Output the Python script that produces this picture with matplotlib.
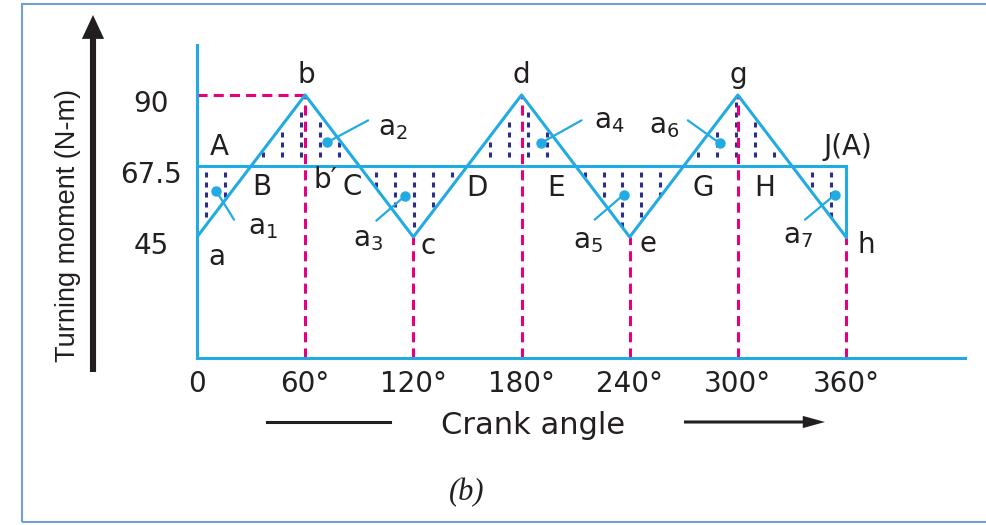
import matplotlib
matplotlib.use('Agg')
import matplotlib.pyplot as plt
import numpy as np
from matplotlib.lines import Line2D
from matplotlib.patches import Rectangle
from matplotlib.transforms import ScaledTranslation

# turning moment diagram: corners of the triangular curve
angle = [0, 60, 120, 180, 240, 300, 360]
torque = [45, 90, 45, 90, 45, 90, 45]
mean_torque = 67.5
corner_names = ['a', 'b', 'c', 'd', 'e', 'g', 'h']
cross_names = ['B', 'C', 'D', 'E', 'G', 'H']
area_names = ['a$_1$', 'a$_2$', 'a$_3$', 'a$_4$', 'a$_5$', 'a$_6$', 'a$_7$']
x_ticks = [0, 60, 120, 180, 240, 300, 360]
x_labels = ['0', '60°', '120°', '180°', '240°', '300°', '360°']
y_ticks = [45, 67.5, 90]
y_labels = ['45', '67.5', '90']

CYAN = '#22abe3'
MAGENTA = '#e4007f'
NAVY = '#2b2e8c'
INK = '#231f20'

plt.rcParams['font.family'] = ['DejaVu Sans']
plt.rcParams['mathtext.fontset'] = 'dejavusans'

W, H = 987, 525
fig = plt.figure(figsize=(W / 100, H / 100), dpi=100)
ax = fig.add_axes([197 / W, 1 - 358 / H, (965 - 197) / W, (358 - 45) / H])
ax.set_xlim(0, 426)
ax.set_ylim(6.66, 105.84)

for side in ['top', 'right']:
    ax.spines[side].set_visible(False)
for side in ['left', 'bottom']:
    ax.spines[side].set_color(CYAN)
    ax.spines[side].set_linewidth(2.2)

# where the curve crosses the mean line
cross = []
for i in range(len(angle) - 1):
    x0, x1, y0, y1 = angle[i], angle[i + 1], torque[i], torque[i + 1]
    cross.append(x0 + (mean_torque - y0) / (y1 - y0) * (x1 - x0))

# dotted shading between curve and mean line
gx, gy = np.meshgrid(np.arange(5, 360, 10.5), np.arange(8, 106, 3.17))
cy = np.interp(gx, angle, torque)
lo = np.minimum(cy, mean_torque)
hi = np.maximum(cy, mean_torque)
inside = (gy > lo + 0.9) & (gy < hi - 0.9)
ax.plot(gx[inside], gy[inside], ls='none', marker='|', ms=3.6, mew=2.2,
        color=NAVY, zorder=1)

# dashed construction lines
ax.vlines(angle[1:], ax.get_ylim()[0], torque[1:], colors=MAGENTA, lw=2.2,
          linestyles=(0, (3.3, 2)), zorder=2)
ax.hlines(torque[1], 0, angle[1], colors=MAGENTA, lw=2.2,
          linestyles=(0, (3.3, 2)), zorder=2)

# curve, mean line and closing edge
ax.plot(angle, torque, color=CYAN, lw=2.2, zorder=3)
ax.hlines(mean_torque, 0, angle[-1], colors=CYAN, lw=2.2, zorder=3)
ax.plot([angle[-1]] * 2, [torque[-1], mean_torque], color=CYAN, lw=2.2, zorder=3)

lab = dict(textcoords='offset pixels', ha='center', va='center', fontsize=20,
           color=INK)
corner_off = [(20, -20), (1, 20), (15, -9), (0, 20), (18, -7), (0, 20), (20, -8)]
for name, x, y, off in zip(corner_names, angle, torque, corner_off):
    ax.annotate(name, (x, y), xytext=off, **lab)

cross_off = [(11, -21), (-7, -21), (10, -22), (-20, -22), (19, -22), (-27, -22)]
for name, x, off in zip(cross_names, cross, cross_off):
    ax.annotate(name, (x, mean_torque), xytext=off, **lab)

ax.annotate('A', (0, mean_torque), xytext=(22, 19), **lab)
ax.annotate('J(A)', (angle[-1], mean_torque), xytext=(2, 19), **lab)
ax.annotate('b′', (angle[1], mean_torque), xytext=(20, -14), **lab)

# area markers with leader lines, placed from each triangle's centroid
bounds = [0] + cross + [360]
dot_shift = [(1, -1), (22, 0), (-8, -6), (19, -1), (-6, -5), (-18, -1), (7, -5)]
lead = [(18, -29), (41, 22), (-29, -25), (41, 23), (-29, -25), (-32, 23), (-30, -25)]
text_off = [(47, -36), (66, 14), (-37, -43), (69, 22), (-36, -46), (-56, 17), (-37, -41)]
for i, name in enumerate(area_names):
    b0, b1 = bounds[i], bounds[i + 1]
    vx = [b0] + [x for x in angle if b0 <= x <= b1] + [b1]
    vy = [mean_torque] + [y for x, y in zip(angle, torque) if b0 <= x <= b1] + [mean_torque]
    px, py = ax.transData.transform((np.mean(vx), np.mean(vy)))
    dx, dy = dot_shift[i]
    dot = ax.transData.inverted().transform((px + dx, py + dy))
    ax.plot(*dot, marker='o', ms=6.5, color=CYAN, zorder=5)
    ax.annotate('', dot, xytext=lead[i], textcoords='offset pixels',
                arrowprops=dict(arrowstyle='-', color=CYAN, lw=1.6,
                                shrinkA=0, shrinkB=0), zorder=5)
    ax.annotate(name, dot, xytext=text_off[i], **lab)

ax.set_xticks(x_ticks, x_labels, fontsize=20, color=INK)
ax.set_yticks(y_ticks, y_labels, fontsize=20, color=INK)
ax.tick_params(axis='x', length=0, pad=9)
ax.tick_params(axis='y', length=0, pad=33)
for t in ax.get_yticklabels():
    t.set_ha('center')
    t.set_transform(t.get_transform() + ScaledTranslation(0, -0.06, fig.dpi_scale_trans))

# vertical axis arrow and title
ax.annotate('', xy=(93, H - 15), xytext=(93, H - 372), xycoords='figure pixels',
            textcoords='figure pixels',
            arrowprops=dict(arrowstyle='simple,head_length=0.43,head_width=0.4,tail_width=0.11',
                            mutation_scale=40, fc=INK, ec='none', lw=0,
                            shrinkA=0, shrinkB=0))
fig.text(68 / W, 1 - 225 / H, 'Turning moment (N-m)', rotation=90, ha='center',
         va='center', fontsize=19.5, family='Liberation Sans', color=INK)

# crank angle label with its arrow
fig.add_artist(Line2D([267 / W, 390 / W], [1 - 422 / H] * 2, color=INK, lw=2.2))
ax.annotate('', xy=(825, H - 422), xytext=(684, H - 422), xycoords='figure pixels',
            textcoords='figure pixels',
            arrowprops=dict(arrowstyle='simple,head_length=0.4,head_width=0.22,tail_width=0.055',
                            mutation_scale=40, fc=INK, ec='none', lw=0,
                            shrinkA=0, shrinkB=0))
fig.text(533 / W, 1 - 425 / H, 'Crank angle', ha='center', va='center',
         fontsize=22, color=INK)
fig.text(467 / W, 1 - 493 / H, '(b)', ha='center', va='center', fontsize=22,
         family='Liberation Serif', style='italic', color=INK)

fig.patches.append(Rectangle((22 / W, 3 / H), 1.0, (522 - 4) / H, fill=False,
                             edgecolor='#6f9fd8', lw=1.5, transform=fig.transFigure))

fig.savefig('out.png', dpi=100)
